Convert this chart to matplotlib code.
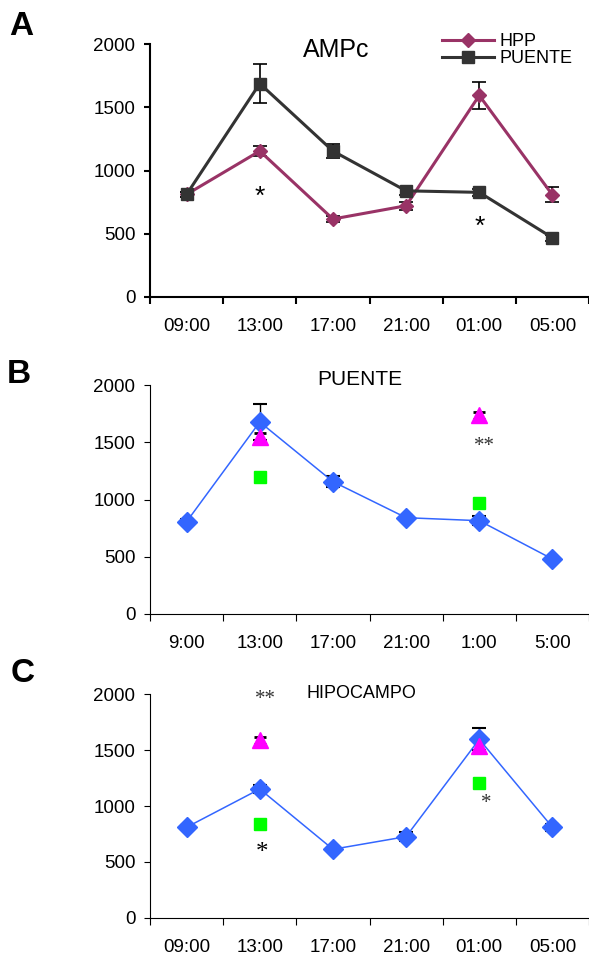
import matplotlib
matplotlib.use('Agg')
import matplotlib.pyplot as plt
import numpy as np

plt.rcParams['font.family'] = ['Liberation Sans', 'DejaVu Sans']

# data
horas_a = ['09:00', '13:00', '17:00', '21:00', '01:00', '05:00']
horas_b = ['9:00', '13:00', '17:00', '21:00', '1:00', '5:00']

puente_a = [812, 1689, 1155, 840, 828, 469]
puente_a_err = [20, 155, 55, 30, 30, 25]
hpp_a = [812, 1155, 617, 722, 1595, 808]
hpp_a_err = [20, 40, 20, 30, 105, 60]

puente_b = [806, 1677, 1156, 841, 815, 480]
puente_b_err = [20, 155, 50, 20, 40, 20]
puente_b_tri = [1545, 1735]
puente_b_tri_err = [40, 30]
puente_b_sq = [1196, 969]
puente_b_sq_err = [35, 40]

hipo_c = [810, 1152, 613, 726, 1597, 810]
hipo_c_err = [20, 40, 20, 40, 100, 30]
hipo_c_tri = [1589, 1540]
hipo_c_tri_err = [30, 40]
hipo_c_sq = [842, 1203]
hipo_c_sq_err = [30, 40]

x = np.arange(len(horas_a))
x_extra = [1, 4]

fig = plt.figure(figsize=(5.89, 9.58), dpi=100)


def base_axes(rect, labels, spine_w):
    ax = fig.add_axes(rect)
    ax.set_xlim(-0.5, 5.5)
    ax.set_ylim(0, 2000)
    ax.spines['top'].set_visible(False)
    ax.spines['right'].set_visible(False)
    ax.spines['left'].set_linewidth(spine_w)
    ax.spines['bottom'].set_linewidth(spine_w)
    ax.set_yticks([0, 500, 1000, 1500, 2000])
    ax.tick_params(axis='y', direction='out', length=4.5, width=spine_w,
                   labelsize=13.5, pad=6)
    ax.set_xticks(np.arange(-0.5, 6.0, 1.0))
    ax.set_xticklabels([])
    ax.tick_params(axis='x', which='major', direction='out', length=5,
                   width=spine_w)
    ax.set_xticks(x, minor=True)
    ax.set_xticklabels(labels, minor=True)
    ax.tick_params(axis='x', which='minor', length=0, labelsize=13.5,
                   pad=15)
    return ax


# ---- A
axA = base_axes([0.2547, 0.690, 0.7453, 0.2638], horas_a, 1.5)
axA.errorbar(x, puente_a, yerr=puente_a_err, fmt='none', ecolor='black',
             elinewidth=1.2, capsize=4.7, capthick=1.2, zorder=2)
axA.errorbar(x, hpp_a, yerr=hpp_a_err, fmt='none', ecolor='black',
             elinewidth=1.2, capsize=4.7, capthick=1.2, zorder=2)
axA.plot(x, hpp_a, color='#993366', lw=2.2, marker='D', ms=6.8,
         mec='#993366', zorder=3, label='HPP')
axA.plot(x, puente_a, color='#333333', lw=2.2, marker='s', ms=9.0,
         mec='#333333', zorder=4, label='PUENTE')
axA.text(1, 793, '*', ha='center', va='center', fontsize=19)
axA.text(4, 556, '*', ha='center', va='center', fontsize=19)
leg = axA.legend(loc='upper left', bbox_to_anchor=(0.7504, 0.9656),
                 bbox_transform=fig.transFigure, frameon=False, fontsize=13,
                 handlelength=2.9, handletextpad=0.3, labelspacing=0.0,
                 borderpad=0, borderaxespad=0)
fig.text(0.5700, 0.940, 'AMPc', ha='center', va='baseline', fontsize=18)
fig.text(0.016, 0.9635, 'A', ha='left', va='baseline', fontsize=24,
         fontweight='bold')

# ---- B
axB = base_axes([0.2547, 0.3591, 0.7453, 0.2390], horas_b, 0.8)
axB.errorbar(x, puente_b, yerr=puente_b_err, fmt='none', ecolor='black',
             elinewidth=1.0, capsize=5, capthick=1.5, zorder=2)
axB.errorbar(x_extra, puente_b_tri, yerr=puente_b_tri_err, fmt='none',
             ecolor='black', elinewidth=1.0, capsize=4, capthick=2, zorder=2)
axB.errorbar(x_extra, puente_b_sq, yerr=puente_b_sq_err, fmt='none',
             ecolor='black', elinewidth=1.0, capsize=3.8, capthick=2, zorder=2)
axB.plot(x, puente_b, color='#3366FF', lw=1.1, marker='D', ms=10.5,
         mec='#3366FF', zorder=3)
axB.plot(x_extra, puente_b_tri, ls='none', marker='^', ms=12,
         color='#FF00FF', mec='#FF00FF', zorder=4)
axB.plot(x_extra, puente_b_sq, ls='none', marker='s', ms=9,
         color='#00FF00', mec='#00FF00', zorder=4)
axB.text(4.07, 1467, '**', ha='center', va='center', fontsize=15,
         family='Liberation Serif', color='#333333')
fig.text(0.611, 0.598, 'PUENTE', ha='center', va='baseline', fontsize=15)
fig.text(0.0115, 0.6005, 'B', ha='left', va='baseline', fontsize=24,
         fontweight='bold')

# ---- C
axC = base_axes([0.2547, 0.0420, 0.7453, 0.2333], horas_a, 0.8)
axC.errorbar(x, hipo_c, yerr=hipo_c_err, fmt='none', ecolor='black',
             elinewidth=1.0, capsize=5, capthick=1.5, zorder=2)
axC.errorbar(x_extra, hipo_c_tri, yerr=hipo_c_tri_err, fmt='none',
             ecolor='black', elinewidth=1.0, capsize=4, capthick=2, zorder=2)
axC.errorbar(x_extra, hipo_c_sq, yerr=hipo_c_sq_err, fmt='none',
             ecolor='black', elinewidth=1.0, capsize=3.8, capthick=2, zorder=2)
axC.plot(x, hipo_c, color='#3366FF', lw=1.1, marker='D', ms=10.5,
         mec='#3366FF', zorder=3)
axC.plot(x_extra, hipo_c_tri, ls='none', marker='^', ms=12,
         color='#FF00FF', mec='#FF00FF', zorder=4)
axC.plot(x_extra, hipo_c_sq, ls='none', marker='s', ms=9,
         color='#00FF00', mec='#00FF00', zorder=4)
axC.text(1.08, 1952, '**', ha='center', va='center', fontsize=15,
         family='Liberation Serif', color='#333333')
axC.text(1.03, 578, '*', ha='center', va='center', fontsize=18,
         family='Liberation Serif', color='black')
axC.text(4.09, 1024, '*', ha='center', va='center', fontsize=15,
         family='Liberation Serif', color='#333333')
fig.text(0.614, 0.271, 'HIPOCAMPO', ha='center', va='baseline',
         fontsize=13)
fig.text(0.018, 0.2884, 'C', ha='left', va='baseline', fontsize=24,
         fontweight='bold')

fig.savefig('out.png', dpi=100)
